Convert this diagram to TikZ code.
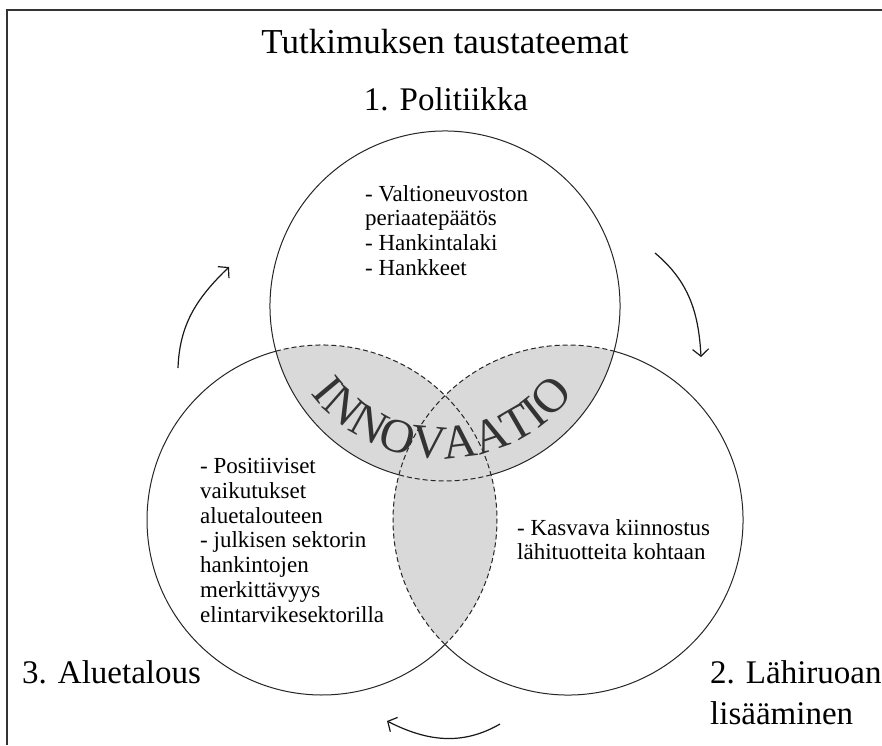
\documentclass[tikz,border=0pt]{standalone}
\usepackage{fontspec}
\setmainfont{Liberation Serif}
\usetikzlibrary{arrows.meta,decorations.text}

\begin{document}
\begin{tikzpicture}[x=1pt, y=-1pt,
  ring/.style={line width=1pt, draw=black!85},
  ringdash/.style={ring, dash pattern=on 5pt off 3pt},
  lens/.style={fill=black!15},
  cyc/.style={line width=1.2pt, draw=black!90,
    -{Straight Barb[length=7pt, width=16pt]}},
  frame/.style={line width=1.3pt, draw=black!80},
  heading/.style={font=\fontsize{35}{40}\selectfont, inner sep=0pt},
  label/.style={font=\fontsize{33}{41}\selectfont, inner sep=0pt, align=left},
  note/.style={font=\fontsize{23}{24.8}\selectfont, inner sep=0pt, align=left},
]
\useasboundingbox (0,0) rectangle (882,745);
\fill[white] (0,0) rectangle (882,745);

% outer frame
\coordinate (fbl) at (7,745);
\coordinate (ftl) at (7,10);
\coordinate (ftr) at (882,10);
\draw[frame] (fbl) -- (ftl) -- (ftr);

% circle centres (radius 175)
\coordinate (cT) at (445,306);
\coordinate (cL) at (322,520);
\coordinate (cR) at (568,520);

% shaded pairwise overlaps
\begin{scope}
  \clip (cT) circle[radius=175];
  \fill[lens] (cL) circle[radius=175];
  \fill[lens] (cR) circle[radius=175];
\end{scope}
\begin{scope}
  \clip (cL) circle[radius=175];
  \fill[lens] (cR) circle[radius=175];
\end{scope}

% top circle
\draw[ring] (cT) ++(105.26:175) arc[start angle=105.26, end angle=434.74, radius=175];
\draw[ringdash] (cT) ++(74.74:175) arc[start angle=74.74, end angle=105.26, radius=175];
% left circle
\draw[ring] (cL) ++(45.34:175) arc[start angle=45.34, end angle=254.74, radius=175];
\draw[ringdash] (cL) ++(-105.26:175) arc[start angle=-105.26, end angle=45.34, radius=175];
% right circle
\draw[ring] (cR) ++(-74.74:175) arc[start angle=-74.74, end angle=134.66, radius=175];
\draw[ringdash] (cR) ++(134.66:175) arc[start angle=134.66, end angle=285.26, radius=175];

% curved word in the overlaps
\path[decorate, decoration={text along path, text align=center, text color=black!80,
    text={|\fontsize{48}{48}\selectfont|INNOVAATIO}}]
  (442,294) ++(150:165) arc[start angle=150, end angle=30, radius=165];

% cycle arrows (out/in are screen angles)
\coordinate (a1s) at (178,368); \coordinate (a1e) at (229,267);
\coordinate (a2s) at (655,253); \coordinate (a2e) at (701,357);
\coordinate (a3s) at (500,724); \coordinate (a3e) at (387,721);
\draw[cyc] (a1s) to[out=88, in=224] (a1e);
\draw[cyc] (a2s) to[out=-40, in=93] (a2e);
\draw[cyc] (a3s) to[out=210, in=-27] (a3e);

% headings
\node[heading, anchor=base] (title) at (445,53) {Tutkimuksen taustateemat};
\node[label, anchor=base] (pol) at (446,110) {1. Politiikka};
\node[label, anchor=base west] (alue) at (22,683) {3. Aluetalous};
\node[label, anchor=north west] (lahi) at (710,660.5) {2. Lähiruoan\\lisääminen};

% notes inside the circles
\node[note, anchor=north west] (ntop) at (365,185)
  {- Valtioneuvoston\\periaatepäätös\\- Hankintalaki\\- Hankkeet};
\node[note, anchor=north west] (nleft) at (200,458)
  {- Positiiviset\\vaikutukset\\aluetalouteen\\- julkisen sektorin\\hankintojen\\merkittävyys\\elintarvikesektorilla};
\node[note, anchor=north west] (nright) at (517,519)
  {- Kasvava kiinnostus\\lähituotteita kohtaan};
\end{tikzpicture}
\end{document}
